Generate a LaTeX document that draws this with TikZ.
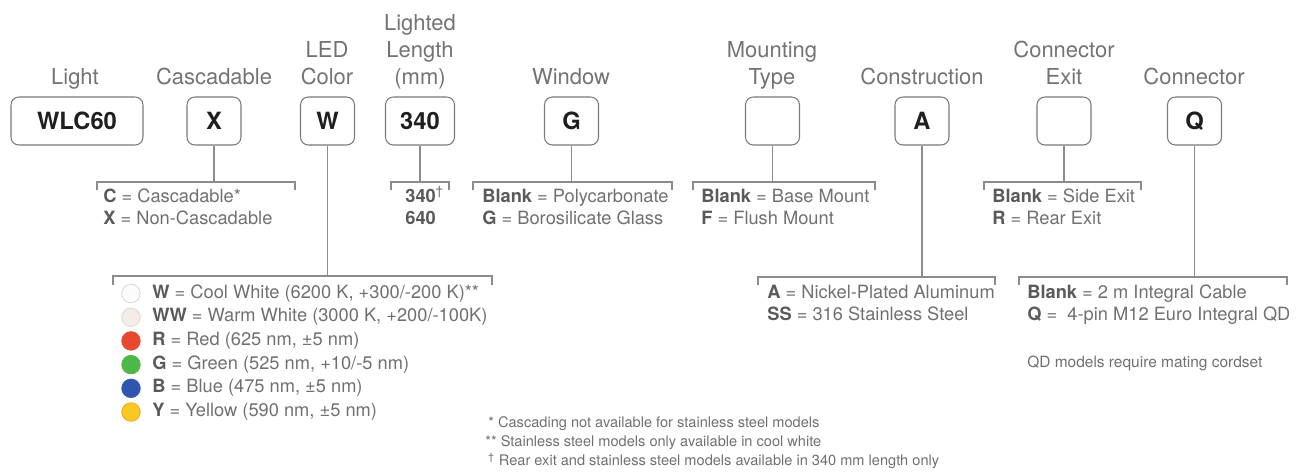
\documentclass[tikz,border=0pt]{standalone}
\usepackage{fontspec}
\setmainfont{TeX Gyre Heros}
\usepackage{xcolor}
\usepackage{tikz}
\usetikzlibrary{positioning,calc}

\definecolor{rulegray}{HTML}{8C8C8C}
\definecolor{boxgray}{HTML}{7A7A7A}
\definecolor{hdrgray}{HTML}{737373}
\definecolor{txtgray}{HTML}{707070}
\definecolor{codegray}{HTML}{5A5A5A}
\definecolor{ledW}{HTML}{FCFCFC}
\definecolor{ledWrim}{HTML}{DADADA}
\definecolor{ledWW}{HTML}{F4ECE7}
\definecolor{ledWWrim}{HTML}{E2D8D2}
\definecolor{ledR}{HTML}{E8492E}
\definecolor{ledRrim}{HTML}{E0503A}
\definecolor{ledG}{HTML}{4DB848}
\definecolor{ledGrim}{HTML}{5BB454}
\definecolor{ledB}{HTML}{2E56B0}
\definecolor{ledBrim}{HTML}{3A5DAE}
\definecolor{ledY}{HTML}{F8C923}
\definecolor{ledYrim}{HTML}{F2A92A}

\tikzstyle{codebox}=[draw=boxgray, line width=0.6pt, rounded corners=4.5pt, minimum height=0.96cm, minimum width=1.08cm, font=\fontsize{13.5}{16}\selectfont\bfseries, text=black!88]
\tikzstyle{hdr}    =[align=center, anchor=base, inner sep=0pt, text=hdrgray, font=\fontsize{12.5}{15.3}\selectfont]
\tikzstyle{legend} =[align=left, anchor=base west, inner sep=0pt, text=txtgray, font=\fontsize{10.4}{12.5}\selectfont]
\tikzstyle{note}   =[anchor=base west, inner sep=0pt, text=txtgray, font=\fontsize{8.3}{10.8}\selectfont]
\tikzstyle{stem}   =[draw=rulegray, line width=0.6pt]
\tikzstyle{brk}    =[draw=rulegray, line width=0.6pt]
\tikzstyle{led}    =[circle, minimum size=0.37cm, inner sep=0pt, line width=0.5pt]

\newcommand{\legcode}[1]{{\color{codegray}\bfseries #1}}

\begin{document}
\begin{tikzpicture}[x=0.02cm, y=-0.02cm]
  \useasboundingbox (0,0) rectangle (1303,471);

  % ── field headers (base = last line) ──────────────────────────────────────
  \node[hdr] (hLight) at (75,84)   {Light};
  \node[hdr] (hCasc)  at (214,84)  {Cascadable};
  \node[hdr] (hLED)   at (327,84)  {LED\\Color};
  \node[hdr] (hLen)   at (420,84)  {Lighted\\Length\\(mm)};
  \node[hdr] (hWin)   at (571,84)  {Window};
  \node[hdr] (hMount) at (772,84)  {Mounting\\Type};
  \node[hdr] (hCons)  at (922,84)  {Construction};
  \node[hdr] (hExit)  at (1064,84) {Connector\\Exit};
  \node[hdr] (hConn)  at (1194,84) {Connector};

  % ── code boxes ────────────────────────────────────────────────────────────
  \node[codebox, minimum width=2.64cm] (bLight) at (77,121)    {WLC60};
  \node[codebox]                       (bCasc)  at (214,121)   {X};
  \node[codebox]                       (bLED)   at (327.5,121) {W};
  \node[codebox, minimum width=1.38cm] (bLen)   at (420,121)   {340};
  \node[codebox]                       (bWin)   at (571.5,121) {G};
  \node[codebox]                       (bMount) at (772.5,121) {};
  \node[codebox]                       (bCons)  at (922,121)   {A};
  \node[codebox]                       (bExit)  at (1064,121)  {};
  \node[codebox]                       (bConn)  at (1194.5,121){Q};

  % ── upper brackets ────────────────────────────────────────────────────────
  \coordinate (jCasc)  at (214,182);
  \coordinate (jLen)   at (420,182);
  \coordinate (jWin)   at (571.5,182);
  \coordinate (jMount) at (772.5,182);
  \coordinate (jExit)  at (1064,182);
  \draw[stem] (bCasc)  -- (jCasc);
  \draw[stem] (bLen)   -- (jLen);
  \draw[stem] (bWin)   -- (jWin);
  \draw[stem] (bMount) -- (jMount);
  \draw[stem] (bExit)  -- (jExit);
  \draw[brk] (97,190)  -- (97,182)  -- (295,182)  -- (295,190);
  \draw[brk] (391,190) -- (391,182) -- (449,182)  -- (449,190);
  \draw[brk] (473,190) -- (473,182) -- (672,182)  -- (672,190);
  \draw[brk] (693,190) -- (693,182) -- (875,182)  -- (875,190);
  \draw[brk] (984,190) -- (984,182) -- (1141,182) -- (1141,190);

  % ── lower brackets ────────────────────────────────────────────────────────
  \coordinate (jLED)  at (327.5,276);
  \coordinate (jCons) at (922,277);
  \coordinate (jConn) at (1194.5,277);
  \draw[stem] (bLED)  -- (jLED);
  \draw[stem] (bCons) -- (jCons);
  \draw[stem] (bConn) -- (jConn);
  \draw[brk] (113,285)  -- (113,276)  -- (492,276)  -- (492,285);
  \draw[brk] (758,285)  -- (758,277)  -- (995,277)  -- (995,285);
  \draw[brk] (1019,285) -- (1019,277) -- (1287,277) -- (1287,285);

  % ── option lists (base = last line) ───────────────────────────────────────
  \node[legend] (lCasc)  at (103,224) {\legcode{C} = Cascadable*\\\legcode{X} = Non-Cascadable};
  \node[legend] (lLen)   at (405,224) {\legcode{340}\textsuperscript{†}\\\legcode{640}};
  \node[legend] (lWin)   at (482,224) {\legcode{Blank} = Polycarbonate\\\legcode{G} = Borosilicate Glass};
  \node[legend] (lMount) at (701,224) {\legcode{Blank} = Base Mount\\\legcode{F} = Flush Mount};
  \node[legend] (lExit)  at (992,224) {\legcode{Blank} = Side Exit\\\legcode{R} = Rear Exit};
  \node[legend] (lCons)  at (767,320) {\legcode{A} = Nickel-Plated Aluminum\\\legcode{SS} = 316 Stainless Steel};
  \node[legend] (lConn)  at (1027,320) {\legcode{Blank} = 2 m Integral Cable\\\legcode{Q} = \ 4-pin M12 Euro Integral QD};
  \node[note, font=\fontsize{8.8}{10.8}\selectfont] (nQD) at (1027,367) {QD models require mating cordset};

  % ── LED colours ───────────────────────────────────────────────────────────
  \foreach \i/\col/\cd/\desc in {0/ledW/W/{Cool White (6200 K, +300/-200 K)**},
                                 1/ledWW/WW/{Warm White (3000 K, +200/-100K)},
                                 2/ledR/R/{Red (625 nm, ±5 nm)},
                                 3/ledG/G/{Green (525 nm, +10/-5 nm)},
                                 4/ledB/B/{Blue (475 nm, ±5 nm)},
                                 5/ledY/Y/{Yellow (590 nm, ±5 nm)}} {
    \node[led, fill=\col, draw=\col rim] (dot\cd) at (131,{293.5+23.7*\i}) {};
    \node[legend] (row\cd) at (152,{298+23.7*\i}) {\legcode{\cd} = \desc};
  }

  % ── footnotes ─────────────────────────────────────────────────────────────
  \node[note] (fn1) at (488,427) {* Cascading not available for stainless steel models};
  \node[note] (fn2) at (485,446) {** Stainless steel models only available in cool white};
  \node[note] (fn3) at (488,465) {\textsuperscript{†} Rear exit and stainless steel models available in 340 mm length only};

\end{tikzpicture}
\end{document}
